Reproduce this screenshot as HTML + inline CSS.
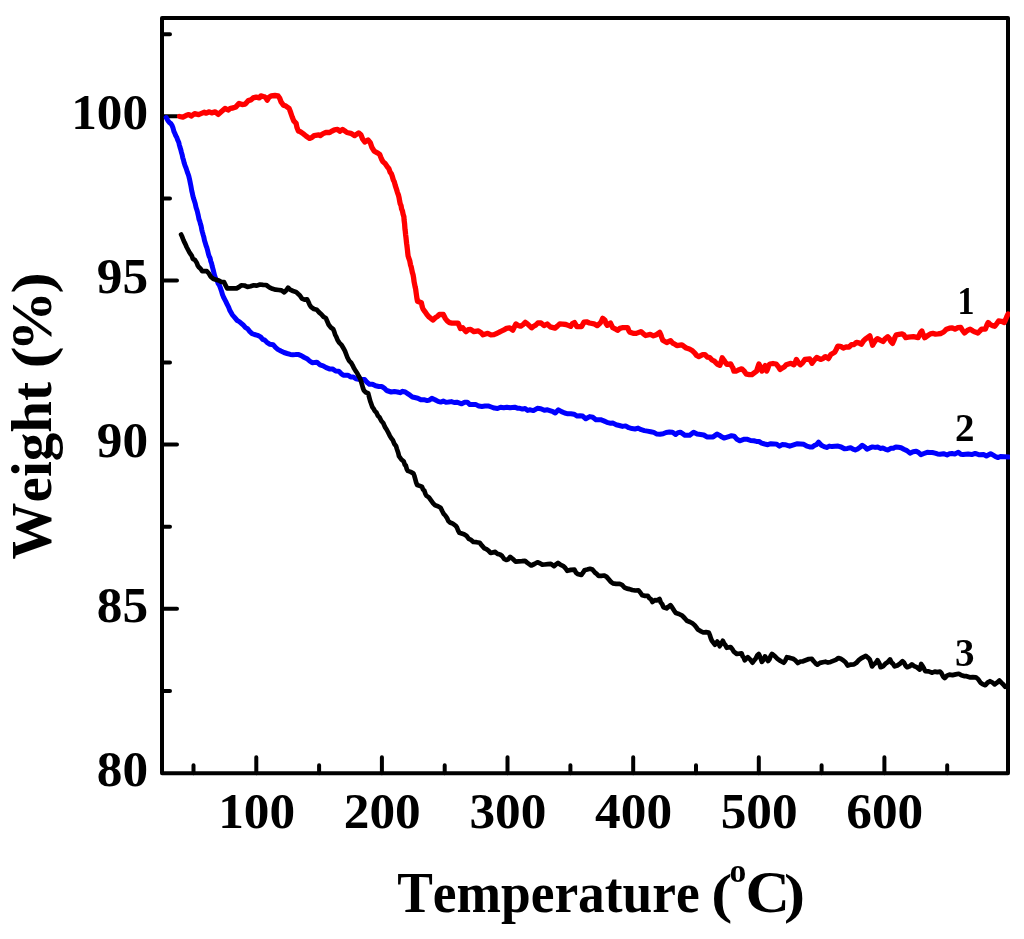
<!DOCTYPE html>
<html><head><meta charset="utf-8"><style>
html,body{margin:0;padding:0;background:#fff;}
svg{display:block;}
text{font-family:"Liberation Serif", serif;font-weight:bold;fill:#000;font-kerning:none;}
</style></head><body>
<svg width="1024" height="939" viewBox="0 0 1024 939">
<defs><clipPath id="cp"><rect x="0" y="0" width="1010" height="939"/></clipPath></defs>
<rect width="1024" height="939" fill="#fff"/>
<g fill="none" stroke="#000" stroke-width="4" stroke-linejoin="round" stroke-linecap="round">
<rect x="162.0" y="18" width="846.0" height="755.2"/>
<path d="M256.3,773.2 V757.2 M381.9,773.2 V757.2 M507.5,773.2 V757.2 M633.2,773.2 V757.2 M758.8,773.2 V757.2 M884.4,773.2 V757.2 M193.5,773.2 V765.2 M319.1,773.2 V765.2 M444.7,773.2 V765.2 M570.4,773.2 V765.2 M696.0,773.2 V765.2 M821.6,773.2 V765.2 M947.2,773.2 V765.2 M162.0,608.8 H177.0 M162.0,444.6 H177.0 M162.0,280.5 H177.0 M162.0,116.3 H177.0 M162.0,690.9 H170.0 M162.0,526.7 H170.0 M162.0,362.6 H170.0 M162.0,198.4 H170.0 M162.0,34.3 H170.0"/>
</g>
<g clip-path="url(#cp)" fill="none" stroke-linejoin="round" stroke-linecap="round" stroke-width="4.5">
<polyline stroke="#f00" stroke-width="5.3" points="179.5,116.5 182.9,117.1 185.9,115.6 188.8,114.6 191.2,116.1 194.6,113.7 198.6,114.6 201.5,113.4 204.4,112.2 205.9,113.2 209.3,111.8 211.7,112.9 215.2,111.8 218.1,114.4 221.5,111.5 225.0,108.4 228.1,110.0 230.4,108.3 232.8,108.0 235.9,106.9 239.1,103.4 242.2,104.5 245.3,104.1 248.4,100.6 250.8,99.9 253.1,97.9 256.2,97.1 259.4,97.9 260.9,95.9 264.1,96.7 265.6,97.5 267.2,100.2 268.8,97.5 271.1,95.9 275.0,95.5 278.1,95.9 279.7,98.3 281.2,102.2 283.6,105.3 285.9,106.1 289.1,108.4 290.6,112.3 292.2,117.0 293.8,120.9 296.1,123.3 296.9,127.2 298.4,131.1 300.0,131.5 303.1,133.7 306.0,136.0 309.4,138.4 311.8,137.5 314.1,135.6 318.8,134.8 320.3,135.6 323.1,133.6 325.8,132.5 329.7,132.5 332.0,131.1 334.4,129.8 337.5,129.4 339.8,131.3 342.6,129.4 344.8,130.9 346.9,132.5 350.8,133.3 354.7,135.6 358.6,132.9 360.9,134.8 362.5,138.8 364.8,141.9 368.0,139.9 370.3,142.7 371.9,147.3 374.2,151.2 377.3,152.8 379.7,154.4 380.7,157.0 381.8,159.6 382.8,161.4 385.1,163.4 387.5,166.9 388.8,168.4 390.1,172.2 391.4,173.9 392.4,176.7 393.4,180.2 394.3,181.8 395.3,185.6 396.3,188.6 397.4,192.3 398.4,195.0 399.0,197.3 399.7,201.4 400.3,204.1 401.0,205.4 401.6,209.0 402.4,210.8 403.1,214.3 403.9,216.9 404.1,220.2 404.3,221.7 404.6,223.9 404.8,226.8 405.0,229.4 405.3,231.4 405.6,234.5 406.0,237.7 406.3,240.6 406.6,243.4 406.9,245.4 407.2,248.0 407.5,250.5 407.8,253.4 408.1,256.0 408.9,258.3 409.7,260.6 410.5,264.8 411.2,266.9 411.8,269.7 412.4,272.6 413.0,274.5 413.6,277.8 414.1,281.8 414.7,284.7 415.2,287.2 415.7,289.3 416.1,292.5 416.6,296.0 417.0,298.8 417.5,301.2 421.4,302.8 422.2,306.7 423.0,309.0 424.9,311.6 426.9,314.5 429.0,316.9 431.0,318.5 433.1,320.0 435.2,317.8 437.3,316.5 439.4,314.5 443.3,314.5 445.2,318.3 447.2,320.8 449.5,322.6 451.9,323.1 455.0,323.1 458.1,323.1 459.3,326.0 460.5,328.6 462.8,327.8 465.9,331.7 468.2,329.7 470.6,329.4 473.8,331.7 478.4,330.9 480.8,332.4 483.1,334.8 487.8,333.3 490.9,334.8 494.0,334.6 497.2,333.3 500.3,331.6 503.4,330.2 506.5,328.4 509.7,327.8 512.8,330.2 514.3,327.1 515.9,323.9 518.2,325.4 520.6,326.2 523.0,324.6 525.3,322.3 527.4,323.9 529.5,325.9 531.6,327.8 533.7,326.2 535.7,325.1 537.8,323.0 541.0,323.0 544.0,325.6 547.2,324.0 550.3,326.9 555.0,328.1 557.4,326.1 559.7,324.0 562.8,324.1 565.9,324.5 568.2,325.4 570.6,326.4 572.5,323.6 574.5,322.5 576.9,326.6 581.6,326.6 583.9,322.2 586.6,321.8 589.4,323.0 594.0,323.8 597.2,325.6 600.3,323.0 601.5,321.0 602.7,318.3 605.0,320.3 606.1,323.7 607.3,325.3 610.5,323.0 611.6,325.5 612.8,327.7 615.1,328.8 617.5,330.3 619.9,328.4 622.2,327.7 625.0,327.7 627.7,327.7 628.9,330.9 630.0,332.3 633.1,333.3 636.2,333.4 640.9,331.6 643.2,333.6 645.6,335.5 650.3,334.4 653.4,335.8 656.5,334.7 659.7,332.3 660.7,334.5 661.8,337.6 662.8,340.2 666.7,342.5 670.6,340.6 672.7,343.1 674.8,344.1 676.9,345.6 681.6,344.8 683.9,346.3 686.2,348.0 689.4,349.0 692.5,350.8 694.6,352.8 696.7,355.5 698.8,356.6 702.7,354.7 705.0,354.7 707.4,357.1 709.7,357.5 712.0,360.0 714.4,361.2 717.1,364.0 719.8,365.3 720.6,363.2 721.4,360.9 722.2,357.8 723.8,360.0 725.3,362.3 726.9,364.4 730.8,364.0 731.8,366.2 732.9,367.9 733.9,371.1 736.5,371.0 739.1,369.7 741.7,368.8 744.0,370.9 746.4,374.2 749.1,374.5 751.9,374.7 754.2,372.9 756.6,371.1 757.8,367.3 758.9,364.0 759.9,366.1 761.0,368.8 762.0,371.1 763.6,368.6 765.2,365.6 766.0,368.6 766.7,371.1 767.7,368.7 768.8,365.5 769.8,364.0 773.0,363.5 776.1,364.0 778.0,366.2 780.0,369.5 782.1,368.1 784.2,367.0 786.2,364.8 790.9,363.3 794.0,364.8 795.2,362.6 796.4,359.4 798.3,362.6 800.3,364.8 802.6,362.7 805.0,359.4 809.7,359.0 812.0,363.3 814.4,360.0 816.7,357.5 820.6,359.4 823.0,358.6 825.3,356.6 828.4,358.6 830.8,354.5 834.7,352.3 836.2,349.5 837.8,346.1 840.5,346.3 843.3,348.1 846.1,346.8 849.0,347.2 851.5,344.7 854.0,344.5 856.5,342.4 858.9,342.9 861.3,344.3 863.6,340.7 866.0,338.6 869.8,335.8 870.7,339.2 871.7,341.9 872.6,345.3 874.2,342.3 875.8,340.2 877.4,338.6 880.2,340.1 883.0,341.5 885.4,338.5 887.8,336.7 889.4,338.5 890.9,341.5 892.5,343.4 893.8,340.5 895.0,337.3 896.3,334.8 899.1,334.3 902.0,333.9 903.9,334.9 905.8,337.7 908.3,337.2 910.9,336.9 913.4,336.7 918.1,337.7 919.4,334.9 920.6,332.5 921.9,331.0 923.3,335.1 924.7,337.7 927.5,335.8 930.4,333.9 932.9,333.4 935.5,334.1 938.0,333.9 940.9,333.5 943.7,332.0 946.5,329.2 949.4,328.2 952.2,327.8 955.0,329.2 957.9,327.6 960.7,327.3 962.6,330.5 964.5,333.0 967.4,330.5 970.2,329.2 972.7,330.8 975.3,332.1 977.8,333.0 979.7,331.2 981.6,329.2 985.4,329.2 986.8,325.3 988.2,322.5 990.4,324.6 992.6,325.6 994.8,326.3 996.7,323.7 998.6,321.0 1001.5,321.3 1004.3,322.5 1005.5,319.9 1006.8,316.6 1008.0,314.0"/>
<polyline stroke="#00f" stroke-width="5.0" points="166.2,117.5 167.8,120.4 169.4,122.5 171.0,123.8 172.0,125.3 172.9,127.7 173.9,131.4 174.9,133.5 175.8,135.8 176.8,137.5 177.8,140.3 178.8,142.5 179.4,145.1 180.1,147.6 180.7,149.3 181.4,152.2 182.1,154.6 182.7,157.6 183.4,159.7 184.2,163.1 185.0,165.6 185.8,167.4 186.6,169.8 187.3,172.0 188.1,174.1 188.9,176.6 189.7,180.0 190.2,182.5 190.7,184.9 191.2,187.6 191.8,191.1 192.3,193.0 192.8,195.6 193.6,198.6 194.4,200.9 195.2,203.4 196.0,207.2 196.8,209.7 197.5,212.2 198.3,215.6 199.0,219.3 199.8,221.2 200.5,224.2 201.1,225.9 201.8,229.8 202.4,232.2 203.1,234.7 203.8,236.9 204.5,240.4 205.3,243.0 206.1,245.8 206.9,247.8 207.7,250.9 208.5,254.3 209.3,256.7 210.0,257.8 210.8,261.4 211.6,263.4 212.2,266.3 212.8,268.4 213.5,271.0 214.1,273.5 214.7,276.0 215.9,279.1 217.1,280.7 218.2,283.6 219.4,285.3 220.5,288.2 221.6,291.6 222.6,294.9 223.7,297.5 224.7,299.4 226.0,301.9 227.3,304.7 228.6,307.2 229.9,310.6 231.2,312.8 232.5,315.0 234.8,317.7 237.2,320.5 239.3,321.6 241.3,323.3 243.4,325.2 245.5,327.6 247.6,328.7 249.7,331.4 252.1,333.7 254.4,334.5 257.5,335.3 260.6,336.9 262.7,339.4 264.8,340.2 266.9,342.3 270.0,344.3 273.1,344.7 275.5,347.4 277.8,349.4 280.9,351.0 284.0,352.5 287.1,353.5 290.3,354.4 292.9,354.7 295.5,354.6 298.1,354.4 301.2,355.6 304.4,357.5 307.0,358.7 309.6,361.0 312.2,362.7 316.9,362.2 320.0,364.8 323.1,365.8 326.2,367.6 329.4,368.9 332.5,368.9 335.6,371.0 338.8,371.2 341.1,373.6 343.4,375.2 348.1,375.2 350.7,377.1 353.3,377.0 355.9,378.8 360.0,379.5 364.7,379.5 367.0,382.3 369.4,384.2 372.5,384.2 375.6,385.8 378.8,386.5 381.9,386.6 384.2,388.1 386.6,390.5 391.2,392.0 394.4,391.5 397.5,392.0 400.1,392.7 402.7,391.3 405.3,392.0 407.6,393.6 410.0,395.2 412.4,397.0 414.7,397.5 417.8,398.2 420.9,399.8 424.0,399.7 427.2,400.6 429.5,400.1 431.9,398.3 435.0,399.7 438.1,401.4 440.7,402.1 443.3,401.1 445.9,402.2 448.6,402.0 451.4,401.6 454.1,402.5 456.9,402.2 461.6,403.8 464.7,402.2 467.3,402.2 469.9,404.6 472.5,404.5 475.6,404.4 478.8,406.1 481.9,406.5 485.0,406.1 488.1,405.9 491.3,407.0 494.4,408.1 497.5,408.5 500.6,407.2 503.8,407.7 506.9,407.2 510.0,407.8 514.7,407.2 517.3,408.2 519.9,408.3 522.5,409.1 525.1,408.5 527.7,410.4 530.3,409.8 533.4,410.6 537.3,408.3 540.8,408.7 544.4,410.3 547.5,409.8 550.6,410.9 553.0,411.7 555.3,413.0 558.4,409.8 561.5,411.6 564.7,413.0 567.8,413.8 570.9,413.8 574.0,414.2 577.2,416.1 580.0,415.8 582.7,416.1 585.8,418.8 589.7,416.6 592.8,417.3 595.9,419.7 600.6,419.7 603.8,420.9 606.9,422.3 610.0,423.2 613.1,423.1 616.2,424.7 619.4,425.5 622.5,426.4 625.6,425.9 628.8,427.7 631.9,428.6 635.0,429.0 638.1,428.1 641.2,429.7 644.4,430.6 647.5,431.1 650.6,431.7 653.8,432.4 656.9,434.1 660.0,434.2 663.1,433.8 666.2,432.5 669.4,432.0 672.5,432.2 675.6,434.5 678.0,432.6 680.3,432.2 682.6,433.7 685.0,435.3 689.7,435.3 693.6,432.2 697.1,434.0 700.6,434.5 703.8,435.0 706.9,436.9 710.0,437.1 713.1,436.9 717.0,434.1 719.3,435.2 721.7,436.8 724.0,438.1 728.8,436.6 731.5,435.7 734.2,436.1 737.0,439.3 739.7,440.8 744.4,439.2 747.5,439.3 750.6,440.5 753.8,440.8 756.4,441.4 759.0,441.5 761.6,443.1 764.7,444.0 767.8,444.7 770.9,443.7 774.0,443.9 776.8,444.3 779.5,446.2 782.2,444.6 785.0,444.7 789.7,446.2 794.4,444.7 797.5,443.7 800.6,443.9 803.8,444.3 806.9,446.2 809.6,446.9 812.3,447.0 814.4,445.4 816.5,444.7 818.6,442.2 821.4,445.2 824.1,446.6 826.7,447.5 829.3,446.1 831.9,446.6 835.0,446.3 838.1,446.1 841.2,447.0 844.4,448.8 847.5,448.4 850.6,447.7 853.0,449.1 855.3,450.0 857.6,449.0 860.0,447.2 862.3,445.3 864.6,446.8 867.0,449.2 869.8,447.9 872.5,446.9 875.1,447.4 877.7,447.0 880.3,448.4 882.9,448.1 885.5,449.3 888.1,450.0 890.7,448.3 893.3,448.3 895.9,446.9 898.5,447.2 901.1,447.7 903.8,449.2 906.9,450.6 910.0,453.1 913.1,451.7 916.2,451.2 918.6,452.5 920.9,454.7 924.0,453.5 927.2,452.3 929.8,452.5 932.4,452.5 935.0,453.1 937.5,453.9 940.0,454.2 943.5,453.7 947.0,454.9 949.5,453.7 952.0,453.5 954.8,454.1 958.3,452.3 960.8,454.2 963.2,454.6 968.1,454.1 971.7,454.6 975.2,453.4 979.4,454.8 983.6,454.6 986.4,456.0 990.6,453.7 994.9,456.2 997.7,457.6 1000.5,456.5 1004.7,456.7 1008.9,457.0"/>
<polyline stroke="#000" stroke-width="4.7" points="181.1,234.5 182.2,236.8 183.4,240.0 184.5,242.4 185.5,244.4 186.6,247.0 187.9,249.5 189.2,251.9 190.5,254.0 191.7,255.6 192.8,258.8 194.8,259.8 196.7,262.7 197.8,265.6 199.0,267.3 200.6,268.8 202.2,271.2 206.9,271.2 208.9,273.5 210.8,276.7 213.5,279.1 216.2,279.8 218.8,280.5 221.4,282.0 224.0,282.2 225.6,285.3 227.2,288.4 231.9,288.4 236.6,288.4 238.9,287.1 241.2,285.3 244.4,285.5 247.5,286.9 250.6,286.3 253.8,285.3 256.9,285.6 260.0,284.5 263.1,284.8 266.2,285.0 269.4,287.3 272.5,288.8 275.6,289.7 278.8,290.0 281.5,290.4 284.2,292.3 286.1,290.5 288.1,287.7 290.0,289.7 293.0,291.0 296.0,291.9 298.0,293.8 299.9,295.5 301.9,298.6 304.5,299.7 307.1,299.4 308.4,301.8 309.6,304.7 310.9,306.8 313.9,309.0 316.8,309.8 319.1,312.4 321.3,314.3 323.6,316.9 325.8,318.0 327.2,321.2 328.7,324.7 330.9,327.5 333.2,329.2 334.2,331.6 335.2,334.9 336.2,336.6 337.7,340.3 339.2,342.6 341.4,344.8 343.6,348.5 344.9,350.8 346.1,354.0 347.4,357.5 349.2,360.9 351.1,362.7 352.6,365.3 354.1,368.4 355.6,370.9 357.1,373.0 358.5,375.8 360.0,378.3 360.8,380.5 361.5,382.8 362.3,385.7 363.0,388.1 363.8,390.3 366.0,392.5 368.2,393.2 368.9,396.2 369.7,399.2 370.4,401.7 371.2,403.7 372.4,407.1 373.7,408.9 374.9,411.1 376.4,412.5 377.9,415.7 379.4,417.1 381.4,421.0 383.4,423.3 385.0,427.1 386.6,429.5 388.2,432.5 389.7,435.6 391.2,438.1 392.8,440.2 394.4,444.0 396.0,446.0 396.8,448.7 397.5,450.7 398.2,452.8 399.0,456.1 401.4,459.5 403.8,461.6 404.8,464.8 405.8,465.5 406.8,469.1 407.8,470.9 410.6,471.9 413.3,473.3 414.3,475.6 415.2,478.8 416.2,482.6 417.2,485.0 421.9,486.6 423.1,489.6 424.2,490.4 425.4,493.8 426.6,495.9 428.9,497.4 431.2,500.6 433.2,503.3 435.2,505.3 437.9,506.2 440.6,507.7 442.2,511.0 443.7,513.8 445.3,515.5 446.9,517.8 448.4,521.1 450.0,522.5 452.8,523.7 455.5,525.6 456.8,527.2 458.1,530.5 459.4,532.7 464.0,534.2 466.4,535.7 468.8,538.9 471.1,539.9 473.4,542.0 476.5,542.2 479.7,542.8 482.0,545.7 484.4,548.3 486.5,549.2 488.5,550.6 490.6,553.0 495.3,551.9 497.6,553.9 500.0,554.5 502.1,556.0 504.2,559.0 506.2,560.0 508.2,559.2 510.2,556.9 512.9,559.0 515.6,561.6 518.7,561.3 521.9,561.1 525.0,560.8 527.1,562.6 529.2,564.1 531.2,565.5 534.4,564.0 537.5,562.3 539.9,563.2 542.3,564.6 544.7,564.5 547.8,564.1 550.9,563.8 554.0,566.1 556.0,564.4 558.0,563.0 560.7,564.9 563.4,566.1 565.3,568.0 567.3,570.8 570.8,569.9 574.4,569.7 576.0,572.7 577.5,573.9 581.4,575.0 583.0,572.7 584.5,570.3 587.2,569.6 590.0,568.8 592.4,569.6 594.7,572.3 596.7,573.9 598.6,575.9 601.3,575.8 604.0,575.5 606.4,576.6 608.8,579.4 610.7,581.6 612.7,583.3 616.2,583.8 619.7,583.8 622.0,584.8 624.4,587.5 627.0,588.6 629.6,589.1 632.2,590.0 635.3,590.5 638.4,590.3 640.3,592.5 642.3,595.3 645.0,595.9 647.8,595.8 649.4,598.3 650.9,599.1 652.5,602.0 654.8,600.2 657.2,600.3 659.5,598.9 660.8,602.5 662.1,604.0 663.4,607.2 666.6,608.3 670.5,605.2 672.3,607.7 674.1,610.6 675.9,613.0 679.0,614.0 682.2,615.6 684.5,618.0 686.9,620.8 690.0,622.0 692.4,623.3 694.7,625.2 696.2,627.1 697.8,629.4 700.5,631.1 703.3,632.5 706.0,632.1 708.8,632.5 709.8,635.0 710.9,638.5 711.9,640.8 715.0,644.7 717.3,641.6 718.5,643.1 719.7,646.2 721.2,643.6 722.8,640.8 724.1,643.6 725.4,645.1 726.7,647.8 730.6,647.0 732.2,648.9 733.8,651.7 736.9,654.0 741.6,653.3 742.6,656.2 743.7,657.5 744.7,660.3 747.8,657.2 750.1,659.4 752.5,662.7 754.1,660.4 755.6,658.7 757.2,655.5 758.8,654.0 759.8,656.3 760.9,659.0 761.9,661.9 763.5,659.8 765.0,656.4 766.5,658.6 768.1,661.1 769.4,659.4 770.7,655.8 772.0,654.0 774.8,656.1 777.5,658.8 780.6,661.0 783.8,662.7 785.3,660.6 786.9,657.2 790.0,657.9 793.1,658.8 795.5,660.4 797.8,663.1 800.4,661.5 803.0,661.3 805.6,660.3 808.8,659.0 811.9,658.8 813.7,661.3 815.5,663.3 817.3,664.7 820.0,662.9 822.8,662.2 825.4,661.7 828.0,662.6 830.6,661.9 833.2,660.9 835.8,659.9 838.4,658.0 840.8,658.8 843.1,660.2 845.5,662.2 847.8,665.6 850.9,664.6 854.0,664.4 856.4,662.8 858.8,660.2 861.1,658.4 863.4,657.1 865.8,655.9 867.8,657.5 869.7,659.4 870.9,662.8 872.0,666.4 873.8,664.2 875.7,663.0 877.5,660.2 878.5,661.9 879.6,664.0 880.6,667.2 883.0,666.3 885.3,663.8 887.6,662.3 890.0,659.4 891.6,662.6 893.1,663.9 894.7,666.4 897.3,665.5 899.9,663.7 902.5,661.2 904.1,662.7 905.6,665.7 907.2,667.2 909.5,666.4 911.9,664.4 914.2,666.1 916.6,667.2 919.7,669.5 920.5,666.8 921.2,664.0 922.6,666.0 923.9,668.4 925.2,671.1 928.7,671.4 932.2,672.7 934.8,671.6 937.4,672.1 940.0,671.6 941.6,673.4 943.1,676.5 944.7,678.1 947.0,675.6 949.4,674.7 952.5,675.1 955.6,674.4 958.8,673.8 961.4,675.3 964.0,676.1 966.6,676.2 969.7,677.3 972.8,677.1 975.9,677.3 978.2,679.2 980.6,682.8 983.0,684.4 985.3,685.2 987.6,682.6 990.0,681.2 992.4,682.5 994.7,684.4 997.0,682.7 999.4,680.5 1001.3,682.6 1003.3,684.5 1005.2,686.8 1008.0,686.0"/>
</g>
<g font-size="51.3"><text x="256.7" y="827.7" text-anchor="middle">100</text><text x="382.3" y="827.7" text-anchor="middle">200</text><text x="507.9" y="827.7" text-anchor="middle">300</text><text x="633.6" y="827.7" text-anchor="middle">400</text><text x="759.2" y="827.7" text-anchor="middle">500</text><text x="884.8" y="827.7" text-anchor="middle">600</text><text x="148.1" y="785.7" text-anchor="end">80</text><text x="148.1" y="621.6" text-anchor="end">85</text><text x="148.1" y="457.4" text-anchor="end">90</text><text x="148.1" y="293.3" text-anchor="end">95</text><text x="148.1" y="129.2" text-anchor="end">100</text></g>
<g font-size="39" style="filter:opacity(1)">
<text transform="translate(957.5,313.5) scale(0.87,1)">1</text>
<text transform="translate(955,441.3) scale(1,1.0001)">2</text>
<text transform="translate(955.1,666.4) scale(1,1.0001)">3</text>
</g>
<text font-size="57.5" transform="translate(397.2,912.2) scale(0.929,1)">Temperature</text>
<text font-size="55" transform="translate(711.3,912.2) scale(1.15,1)">(</text>
<g style="filter:opacity(1)"><text font-size="33.5" transform="translate(729.6,881.6) scale(1,1.0001)">o</text></g>
<text font-size="58.5" transform="translate(745.5,912.4) scale(1.05,1)">C</text>
<text font-size="55" transform="translate(783.9,912.2) scale(1.15,1)">)</text>
<g font-size="57" transform="translate(50.5,559.4) rotate(-90)"><text>Weight</text><text transform="translate(190.9,0) scale(1.164,1)">(</text><text transform="translate(208,0) scale(1.061,1)">%</text><text transform="translate(265.8,0) scale(1.127,1)">)</text></g>
</svg>
</body></html>
